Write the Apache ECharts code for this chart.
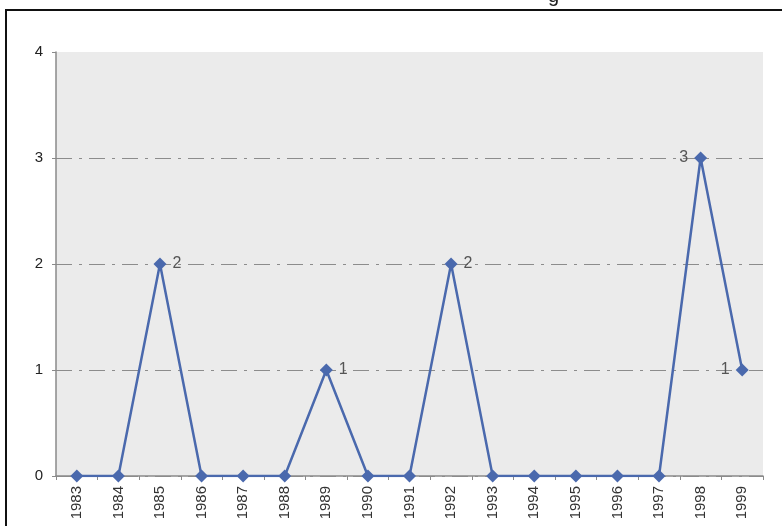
<!DOCTYPE html>
<html>
<head>
<meta charset="utf-8">
<script src="https://cdn.jsdelivr.net/npm/echarts@6/dist/echarts.min.js"></script>
<style>
  html, body { margin: 0; padding: 0; background: #ffffff; }
  #chart { width: 782px; height: 526px; }
</style>
</head>
<body>
<div id="chart"></div>
<script>
// data
const years = ['1983', '1984', '1985', '1986', '1987', '1988', '1989', '1990', '1991',
               '1992', '1993', '1994', '1995', '1996', '1997', '1998', '1999'];
const counts = [0, 0, 2, 0, 0, 0, 1, 0, 0, 2, 0, 0, 0, 0, 0, 3, 1];
const yTicks = [0, 1, 2, 3, 4];

function initChart() {
    const chartDom = document.getElementById('chart');
    const myChart = echarts.init(chartDom);

    // value labels only on non-zero points; the last two sit left of the marker
    const points = counts.map((v, i) => ({
        value: v,
        label: {
            show: v > 0,
            position: i >= counts.length - 2 ? 'left' : 'right'
        }
    }));

    // dash-dot grid lines at 1..3, none at the top
    const gridColors = yTicks.map((t, i) => (i === yTicks.length - 1 ? 'rgba(0,0,0,0)' : '#8c8c8c'));

    const option = {
        animation: false,
        backgroundColor: '#ffffff',
        textStyle: { fontFamily: 'Liberation Sans, Arial, sans-serif' },
        graphic: [
            { // outer frame of the scanned figure
                type: 'rect',
                shape: { x: 6, y: 10, width: 800, height: 540 },
                style: { fill: 'none', stroke: '#111', lineWidth: 2 },
                z: 0
            },
            { // clipped title descender at top
                type: 'text',
                left: 548, top: -14,
                style: { text: 'g', fontSize: 20, fill: '#222' }
            }
        ],
        grid: {
            left: 56, right: 19, top: 52, bottom: 50,
            show: true,
            backgroundColor: '#ebebeb',
            borderWidth: 0
        },
        xAxis: {
            type: 'category',
            data: years,
            boundaryGap: true,
            axisLine: { lineStyle: { color: '#8a8a8a', width: 1.5 } },
            axisTick: { show: true, length: 4, lineStyle: { color: '#8a8a8a' } },
            axisLabel: {
                rotate: 90,
                color: '#333',
                fontSize: 15,
                margin: 10
            },
            splitLine: { show: false }
        },
        yAxis: {
            type: 'value',
            min: yTicks[0],
            max: yTicks[yTicks.length - 1],
            interval: 1,
            axisLine: { show: true, lineStyle: { color: '#8a8a8a', width: 1.5 } },
            axisTick: { show: true, length: 4, lineStyle: { color: '#8a8a8a' } },
            axisLabel: { color: '#222', fontSize: 15, margin: 13 },
            splitLine: {
                show: true,
                lineStyle: { color: gridColors, width: 1, type: [16, 7, 3, 7] }
            }
        },
        series: [{
            type: 'line',
            data: points,
            symbol: 'diamond',
            symbolSize: 13,
            lineStyle: { color: '#4a69ad', width: 2.5 },
            itemStyle: { color: '#4a69ad' },
            label: {
                color: '#555',
                fontSize: 16,
                distance: 6
            }
        }]
    };

    myChart.setOption(option);
    window.addEventListener('resize', () => myChart.resize());
}

window.onload = initChart;
</script>
</body>
</html>
